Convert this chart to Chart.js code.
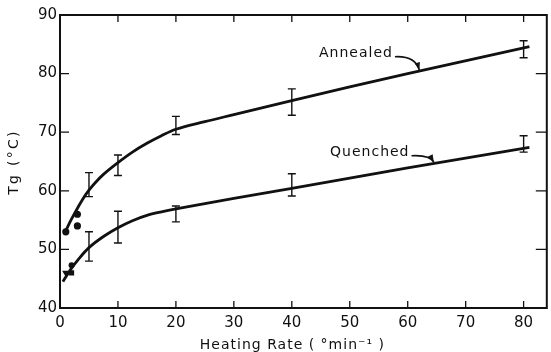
<!DOCTYPE html>
<html>
<head>
<meta charset="utf-8">
<script src="https://cdn.jsdelivr.net/npm/chart.js@4/dist/chart.umd.min.js"></script>
<style>
  html, body { margin: 0; padding: 0; background: #fff; }
  #wrap { width: 551px; height: 352px; }
</style>
</head>
<body>
<div id="wrap"><canvas id="tgChart" width="551" height="352"></canvas></div>
<script>
const xTicks = [0, 10, 20, 30, 40, 50, 60, 70, 80];
const yTicks = [40, 50, 60, 70, 80, 90];

// Tg ranges at each heating rate (error bars)
const rateBars = [5, 10, 20, 40, 80];
const annealedLow = [59.0, 62.6, 69.6, 72.9, 82.7];
const annealedHigh = [63.1, 66.1, 72.7, 77.4, 85.6];
const quenchedLow = [48.0, 51.1, 54.7, 59.1, 66.6];
const quenchedHigh = [53.0, 56.5, 57.4, 62.9, 69.4];

// single runs at slow rates
const annealedDotX = [1, 3, 3];
const annealedDotY = [53, 56, 54];
const quenchedDotX = [1, 2, 2];
const quenchedDotY = [46, 46, 47.3];
const quenchedDotStyle = ["triangle", "rect", "circle"];

// smoothed curves through the data
const annealedCurveX = [1, 2, 3, 4, 5, 6, 7.5, 10, 12.5, 15, 17.5, 20, 25, 30, 40, 60, 81];
const annealedCurveY = [53.2, 55.2, 57.0, 58.7, 60.1, 61.3, 62.8, 64.8, 66.6, 68.1, 69.4, 70.5, 71.8, 73.0, 75.4, 80.0, 84.6];
const quenchedCurveX = [0.5, 1, 2, 3, 5, 7.5, 10, 12.5, 15, 17.5, 20, 30, 40, 60, 81];
const quenchedCurveY = [44.5, 45.3, 46.8, 48.1, 50.3, 52.2, 53.7, 54.9, 55.8, 56.4, 56.9, 58.7, 60.4, 63.9, 67.4];

// curve labels: text anchor and arrow tip, in data units
const curveLabels = ["Annealed", "Quenched"];
const labelAt = [[44.7, 83.4], [46.6, 66.5]];
const arrowTo = [[62, 80.6], [64.5, 64.9]];

const ink = "#111";
const fontFamily = "'DejaVu Sans', sans-serif";

function pts(xs, ys) {
  return xs.map((v, i) => ({ x: v, y: ys[i] }));
}

function arrow(ctx, x0, y0, x1, y1) {
  const cx = x1 - 4, cy = y0 - 1;
  ctx.beginPath();
  ctx.moveTo(x0, y0);
  ctx.quadraticCurveTo(cx, cy, x1, y1);
  ctx.stroke();
  const ang = Math.atan2(y1 - cy, x1 - cx);
  ctx.beginPath();
  ctx.moveTo(x1, y1);
  ctx.lineTo(x1 - 8 * Math.cos(ang - 0.35), y1 - 8 * Math.sin(ang - 0.35));
  ctx.lineTo(x1 - 8 * Math.cos(ang + 0.35), y1 - 8 * Math.sin(ang + 0.35));
  ctx.closePath();
  ctx.fill();
}

const framePlugin = {
  id: "frame",
  afterDatasetsDraw(chart) {
    const { ctx, chartArea: a, scales: { x, y } } = chart;
    ctx.save();
    ctx.strokeStyle = ink;
    ctx.fillStyle = ink;

    // box round the plot
    ctx.lineWidth = 2;
    ctx.strokeRect(a.left, a.top, a.right - a.left, a.bottom - a.top);

    // inward ticks on all four sides
    ctx.lineWidth = 1.3;
    ctx.beginPath();
    xTicks.slice(1).forEach(v => {
      const px = x.getPixelForValue(v);
      ctx.moveTo(px, a.bottom); ctx.lineTo(px, a.bottom - 7);
      ctx.moveTo(px, a.top); ctx.lineTo(px, a.top + 7);
    });
    yTicks.slice(1, -1).forEach(v => {
      const py = y.getPixelForValue(v);
      ctx.moveTo(a.left, py); ctx.lineTo(a.left + 9, py);
      ctx.moveTo(a.right, py); ctx.lineTo(a.right - 11, py);
    });
    ctx.stroke();

    // error bars
    ctx.lineWidth = 1.4;
    [[annealedLow, annealedHigh], [quenchedLow, quenchedHigh]].forEach(([lo, hi]) => {
      rateBars.forEach((r, i) => {
        const px = x.getPixelForValue(r);
        const pl = y.getPixelForValue(lo[i]);
        const ph = y.getPixelForValue(hi[i]);
        ctx.beginPath();
        ctx.moveTo(px, pl); ctx.lineTo(px, ph);
        ctx.moveTo(px - 4, pl); ctx.lineTo(px + 4, pl);
        ctx.moveTo(px - 4, ph); ctx.lineTo(px + 4, ph);
        ctx.stroke();
      });
    });

    // curve labels with arrows
    ctx.font = "14px " + fontFamily;
    ctx.letterSpacing = "1px";
    ctx.textAlign = "left";
    ctx.textBaseline = "middle";
    ctx.lineWidth = 1.6;
    curveLabels.forEach((t, i) => {
      const tx = x.getPixelForValue(labelAt[i][0]);
      const ty = y.getPixelForValue(labelAt[i][1]);
      ctx.fillText(t, tx, ty);
      const w = ctx.measureText(t).width;
      arrow(ctx, tx + w + 2, ty + 3,
        x.getPixelForValue(arrowTo[i][0]), y.getPixelForValue(arrowTo[i][1]));
    });

    // axis titles
    ctx.font = "14px " + fontFamily;
    ctx.letterSpacing = "1px";
    ctx.textAlign = "center";
    ctx.fillText("Heating Rate ( °min⁻¹ )", x.getPixelForValue(40.1), 345);
    ctx.translate(14, 162);
    ctx.rotate(-Math.PI / 2);
    ctx.letterSpacing = "2.3px";
    ctx.fillText("Tg (°C)", 0, 0);
    ctx.restore();
  }
};

const tickFont = { family: fontFamily, size: 15 };

new Chart("tgChart", {
  type: "scatter",
  data: {
    datasets: [
      {
        data: pts(annealedCurveX, annealedCurveY),
        showLine: true, pointRadius: 0, borderColor: ink, borderWidth: 2.8,
        tension: 0.35
      },
      {
        data: pts(quenchedCurveX, quenchedCurveY),
        showLine: true, pointRadius: 0, borderColor: ink, borderWidth: 2.8,
        tension: 0.35
      },
      {
        data: pts(annealedDotX, annealedDotY),
        pointStyle: "circle", pointRadius: 3.6,
        backgroundColor: ink, borderColor: ink, borderWidth: 0
      },
      {
        data: pts(quenchedDotX, quenchedDotY),
        pointStyle: quenchedDotStyle, pointRotation: [180, 0, 0],
        pointRadius: [4.2, 3.6, 3],
        backgroundColor: ink, borderColor: ink, borderWidth: 0
      }
    ]
  },
  options: {
    responsive: false,
    animation: false,
    devicePixelRatio: 1,
    layout: { padding: { top: 15, right: 1, left: 0, bottom: 0 } },
    plugins: { legend: { display: false }, tooltip: { enabled: false } },
    scales: {
      x: {
        type: "linear", min: 0, max: 84,
        afterBuildTicks: s => { s.ticks = xTicks.map(v => ({ value: v })); },
        afterFit: s => { s.height = 44; },
        grid: { display: false, drawTicks: false },
        border: { display: false },
        ticks: { color: ink, font: tickFont, padding: 6, maxRotation: 0 }
      },
      y: {
        type: "linear", min: 40, max: 90,
        afterBuildTicks: s => { s.ticks = yTicks.map(v => ({ value: v })); },
        afterFit: s => { s.width = 60; },
        grid: { display: false, drawTicks: false },
        border: { display: false },
        ticks: { color: ink, font: tickFont, padding: 3 }
      }
    }
  },
  plugins: [framePlugin]
});
</script>
</body>
</html>
